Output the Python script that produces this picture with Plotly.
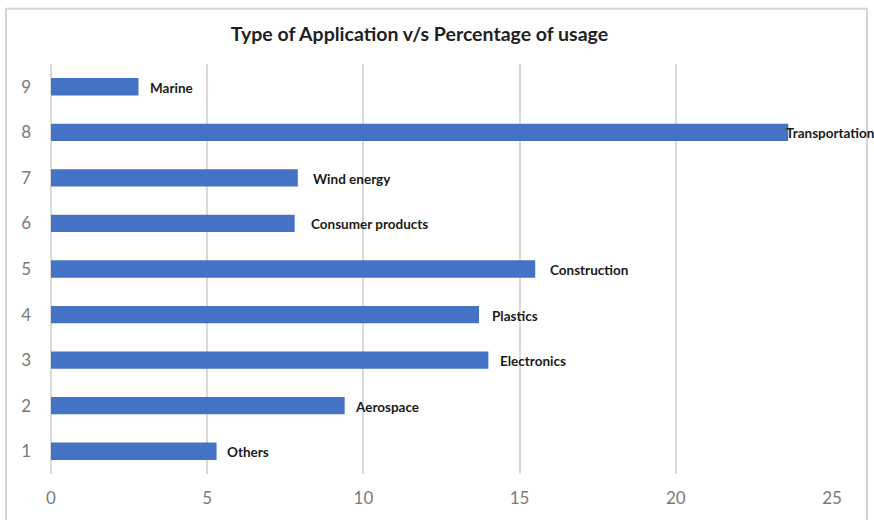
import plotly.graph_objects as go

# Application categories, their index on the y axis and percentage of usage
categories = ["Others", "Aerospace", "Electronics", "Plastics", "Construction",
              "Consumer products", "Wind energy", "Transportation", "Marine"]
positions = [1, 2, 3, 4, 5, 6, 7, 8, 9]
usage_pct = [5.3, 9.4, 14.0, 13.7, 15.5, 7.8, 7.9, 23.6, 2.8]
x_ticks = [0, 5, 10, 15, 20, 25]

# pixel gap between each bar end and its category label
label_gap = [8, 8, 10, 11, 13, 14, 13, -4, 10]

W, H = 874, 520
ML, MR, MT, MB = 51, 42, 64, 41

fig = go.Figure()
fig.add_trace(go.Bar(
    x=usage_pct,
    y=positions,
    orientation="h",
    width=0.38,
    marker=dict(color="#4472C4", line=dict(width=0)),
    hoverinfo="x+y",
    showlegend=False,
))

for name, pos, val, gap in zip(categories, positions, usage_pct, label_gap):
    fig.add_annotation(
        x=val, y=pos, text=f"<b>{name}</b>", showarrow=False,
        xanchor="left", yanchor="middle", xshift=gap, yshift=-1,
        font=dict(family="Lato", size=13.5, color="#1a1a1a"),
    )

# light frame around the whole chart
plot_w = W - ML - MR
plot_h = H - MT - MB
fig.add_shape(
    type="rect", xref="paper", yref="paper",
    x0=(6 - ML) / plot_w, x1=(867 - ML) / plot_w,
    y0=-(H + 20 - (H - MB)) / plot_h, y1=((H - MB) - 8) / plot_h,
    line=dict(color="#d4d4d4", width=2), fillcolor="rgba(0,0,0,0)",
    layer="below",
)

fig.update_layout(
    width=W, height=H,
    margin=dict(l=ML, r=MR, t=MT, b=MB),
    paper_bgcolor="white", plot_bgcolor="white",
    title=dict(
        text="<b>Type of Application v/s Percentage of usage</b>",
        x=419.5 / W, xref="container", xanchor="center",
        y=1 - 34 / H, yref="container", yanchor="middle",
        font=dict(family="Lato", size=19.5, color="#1f1f1f"),
    ),
    xaxis=dict(
        range=[0, 25], tickvals=x_ticks, showgrid=True,
        gridcolor="#d9d9d9", gridwidth=1.5, zeroline=True,
        zerolinecolor="#d9d9d9", zerolinewidth=1.5, showline=False,
        ticks="", ticklabelstandoff=12,
        tickfont=dict(family="Lato", size=17, color="#7a7a7a"),
        fixedrange=True,
    ),
    yaxis=dict(
        range=[0.5, 9.5], tickvals=positions, showgrid=False,
        zeroline=False, showline=False, ticks="", ticklabelstandoff=19,
        tickfont=dict(family="Lato", size=17, color="#7a7a7a"),
        fixedrange=True,
    ),
    bargap=0.62,
)

fig.write_html("out.html")
